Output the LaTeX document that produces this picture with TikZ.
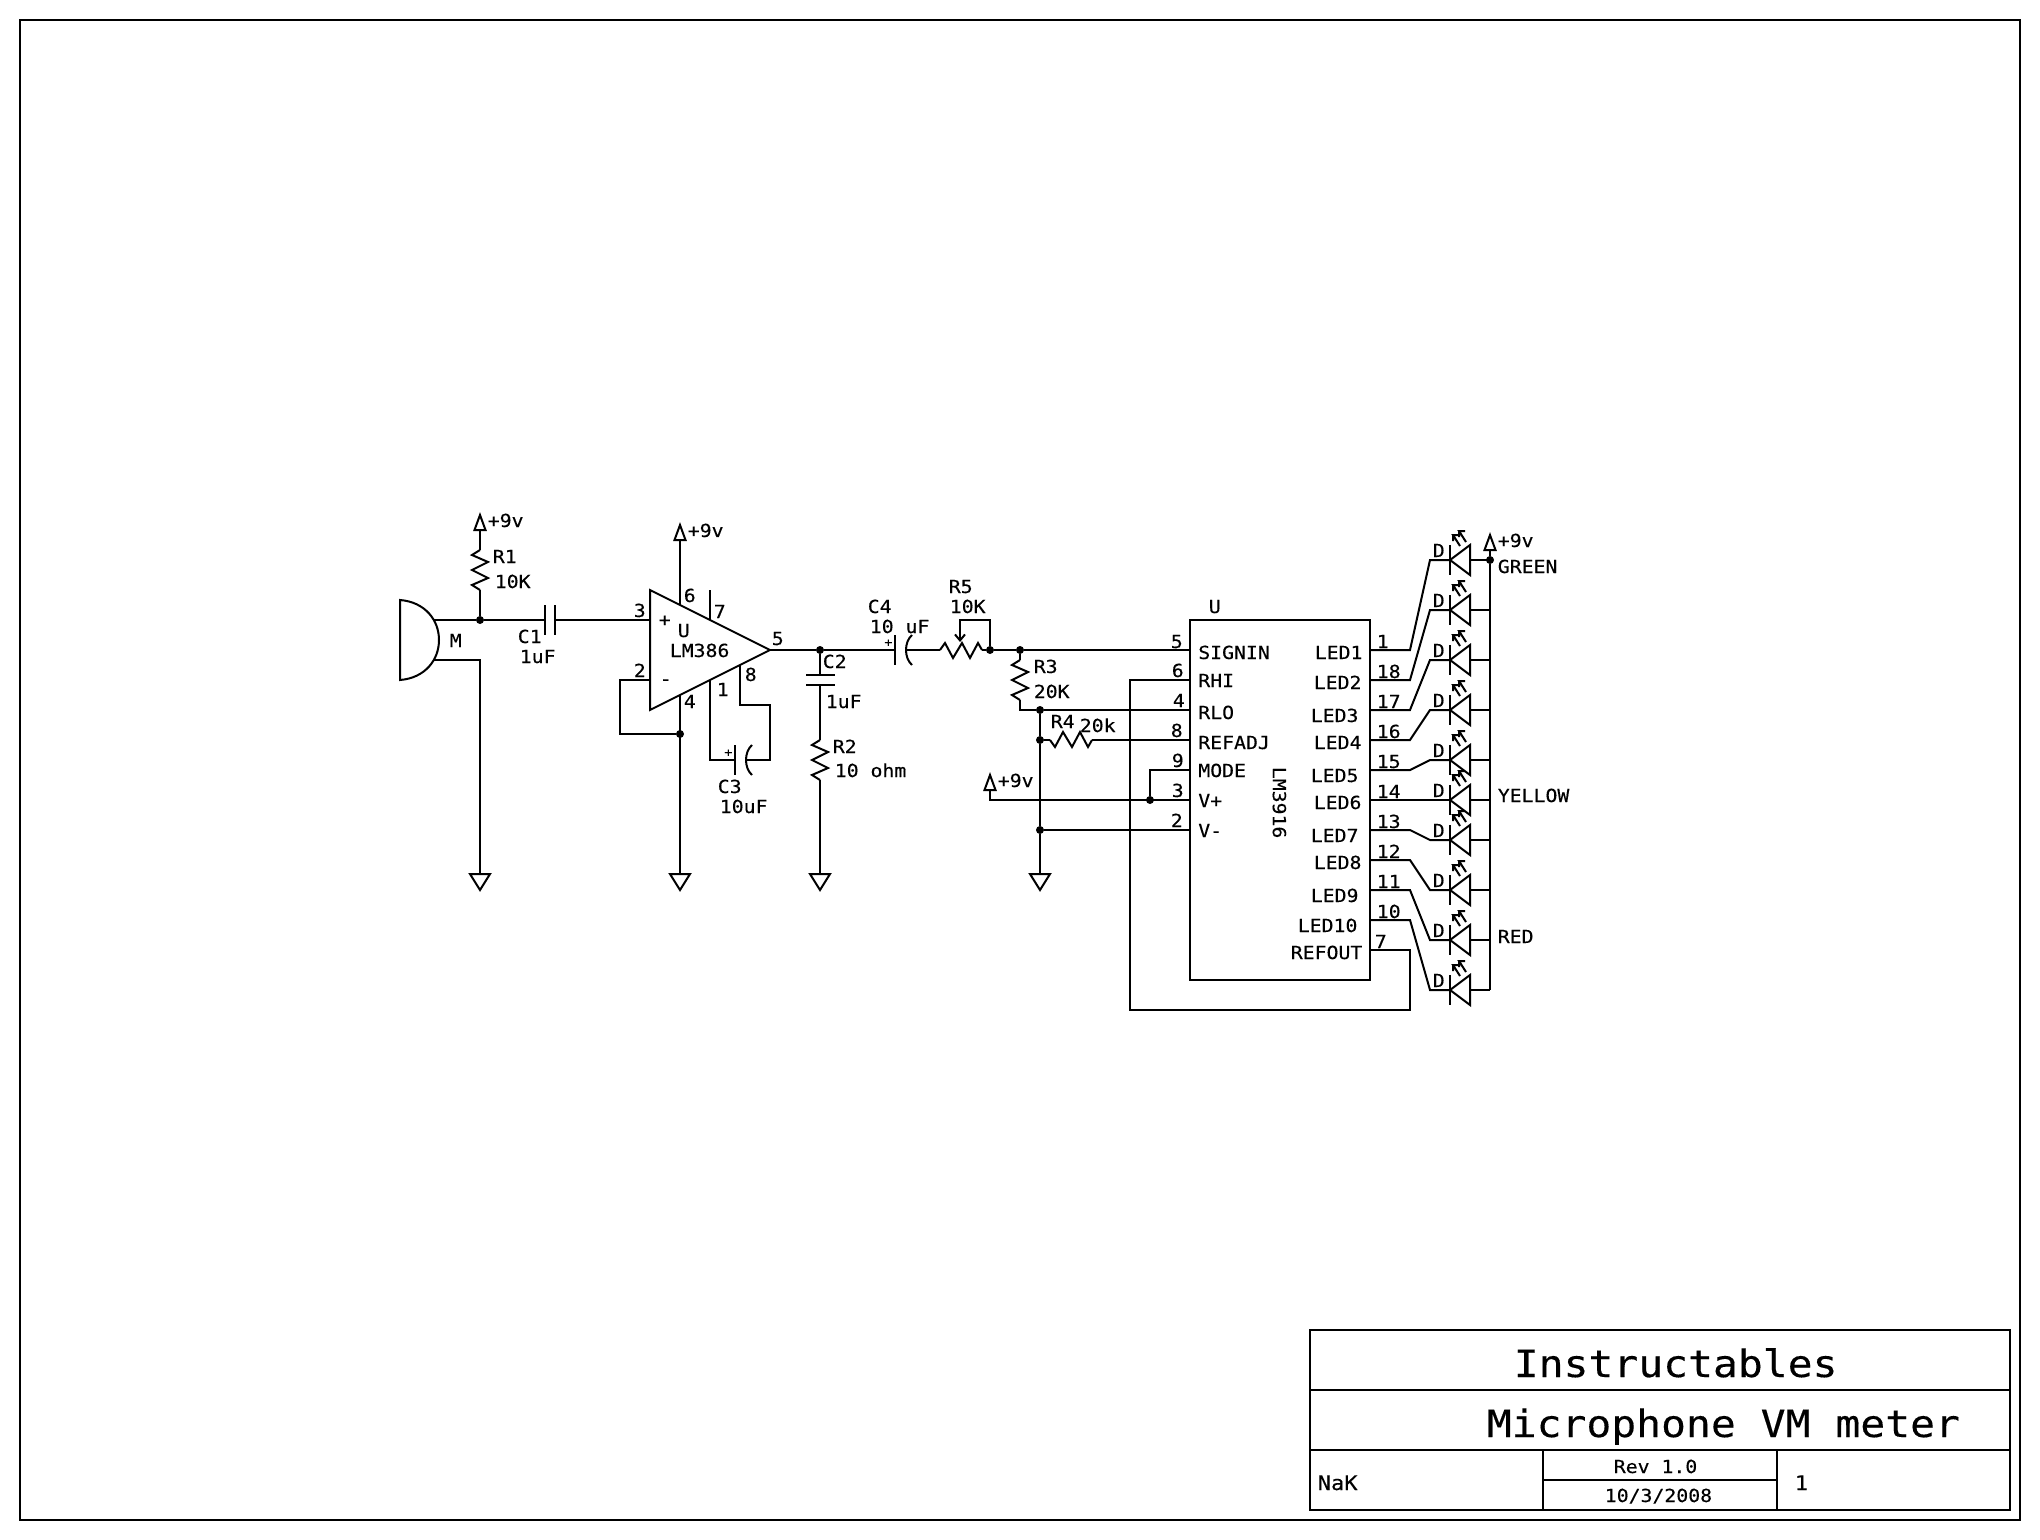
\documentclass[tikz,border=0pt]{standalone}
\usepackage{fontspec}
\usetikzlibrary{arrows.meta}
\newfontfamily\schfont[FakeStretch=1.1,FakeBold=0.3]{DejaVu Sans Mono}

\tikzset{
  wire/.style={line width=1pt, line join=miter},
  lab/.style={inner sep=0pt, anchor=base west, xshift=-0.3pt, font=\schfont\fontsize{9}{11}\selectfont},
  biglab/.style={lab, font=\schfont\fontsize{18.8}{22}\selectfont},
  midlab/.style={lab, font=\schfont\fontsize{10}{12}\selectfont},
  jdot/.style={circle, fill=black, inner sep=0pt, minimum size=4pt},
  gnd/.pic={
    \coordinate (-pin) at (0,0);
    \draw[wire] (-10,0) -- (10,0) -- (0,16) -- cycle;
  },
  vcc/.pic={
    \coordinate (-pin) at (0,0);
    \draw[wire] (-5.5,0) -- (5.5,0) -- (0,-15) -- cycle;
  },
  resv/.pic={
    \coordinate (-a) at (0,0);
    \coordinate (-b) at (0,40);
    \draw[wire] (-a) -- (-8,5) -- (8,12) -- (-8,20) -- (8,28) -- (-8,35) -- (-b);
  },
  resh/.pic={
    \coordinate (-a) at (0,0);
    \coordinate (-b) at (42,0);
    \draw[wire] (-a) -- (5,-7) -- (13,8) -- (22,-7) -- (30,8) -- (38,-7) -- (-b);
  },
  polcap/.pic={
    \coordinate (-a) at (0,0);
    \coordinate (-b) at (11,0);
    \draw[wire] (0,-15) -- (0,15);
    \draw[wire] (17,-15) .. controls (9,-8) and (9,8) .. (17,15);
    \node[lab, anchor=center, font=\schfont\fontsize{6}{7}\selectfont] (-plus) at (-6,-7) {+};
  },
  led/.pic={
    \coordinate (-k) at (0,0);
    \coordinate (-a) at (20,0);
    \draw[wire] (0,-15) -- (0,15);
    \draw[wire] (0,0) -- (20,-15) -- (20,15) -- cycle;
    \draw[wire] (10,-14) -- (3,-25) -- (9,-25) (3,-25) -- (3,-19);
    \draw[wire] (16,-18) -- (9,-29) -- (15,-29) (9,-29) -- (9,-23);
  }
}

\begin{document}
\begin{tikzpicture}[x=0.5pt, y=-0.5pt]
  \useasboundingbox (0,0) rectangle (2040,1540);

  % Sheet frame
  \coordinate (frametl) at (20,20);
  \coordinate (framebr) at (2020,1520);
  \draw[wire] (frametl) rectangle (framebr);

  % Junctions
  \foreach \jname/\jx/\jy in {jmic/480/620, jfb/680/734, jout/820/650, jwiper/990/650,
      jrthree/1020/650, jrlo/1040/710, jrfour/1040/740, jvminus/1040/830,
      jmode/1150/800, jbus/1490/560}
    \node[jdot] (\jname) at (\jx,\jy) {};

  % Microphone
  \draw[wire] (400,600) .. controls (425,602) and (439,620) .. (439,640)
     .. controls (439,660) and (425,678) .. (400,680) -- cycle;
  \coordinate (mictop) at (434,620);
  \coordinate (micbot) at (434,660);
  \coordinate (miccorner) at (480,660);
  \node[lab] (micm) at (450,647) {M};
  \pic (gndm) at (480,874) {gnd};
  \draw[wire] (mictop) -- (jmic);
  \draw[wire] (micbot) -- (miccorner) -- (gndm-pin);

  % R1
  \pic (vccr) at (480,530) {vcc};
  \pic (rone) at (480,550) {resv};
  \draw[wire] (vccr-pin) -- (rone-a);
  \draw[wire] (rone-b) -- (jmic);
  \node[lab] (vcctxta) at (488,527) {+9v};
  \node[lab] (ronetxt) at (493,563) {R1};
  \node[lab] (ronev) at (495,588) {10K};

  % C1
  \coordinate (cona) at (545,620);
  \coordinate (conb) at (555,620);
  \draw[wire] (545,605) -- (545,635);
  \draw[wire] (555,605) -- (555,635);
  \draw[wire] (jmic) -- (cona);
  \node[lab] (conetxt) at (518,643) {C1};
  \node[lab] (conev) at (520,663) {1uF};

  % LM386
  \coordinate (ampa) at (650,590);
  \coordinate (ampb) at (770,650);
  \coordinate (ampc) at (650,710);
  \draw[wire] (ampa) -- (ampb) -- (ampc) -- cycle;
  \coordinate (amptre) at (650,620);
  \coordinate (amptwo) at (650,680);
  \coordinate (ampsix) at (680,605);
  \coordinate (ampsev) at (710,620);
  \coordinate (ampfou) at (680,695);
  \coordinate (ampone) at (710,680);
  \coordinate (ampeig) at (740,665);
  \draw[wire] (conb) -- (amptre);
  \pic (vccu) at (680,540) {vcc};
  \pic (gndu) at (680,874) {gnd};
  \draw[wire] (vccu-pin) -- (ampsix);
  \draw[wire] (ampsev) -- (710,590);
  \draw[wire] (ampfou) -- (gndu-pin);
  \draw[wire] (amptwo) -- (620,680) -- (620,734) -- (jfb);
  \node[lab] (vcctxtb) at (688,537) {+9v};
  \node[lab] (ampplus) at (659,626) {+};
  \node[lab] (ampminus) at (660,685) {-};
  \node[lab] (ampu) at (678,637) {U};
  \node[lab] (ampname) at (670,657) {LM386};
  \node[lab] (pintre) at (634,617) {3};
  \node[lab] (pintwo) at (634,677) {2};
  \node[lab] (pinsix) at (684,602) {6};
  \node[lab] (pinsev) at (714,618) {7};
  \node[lab] (pinfiv) at (772,645) {5};
  \node[lab] (pineig) at (745,681) {8};
  \node[lab] (pinone) at (717,696) {1};
  \node[lab] (pinfou) at (684,708) {4};

  % C3
  \pic (cthree) at (735,760) {polcap};
  \draw[wire] (ampone) -- (710,760) -- (cthree-a);
  \draw[wire] (cthree-b) -- (770,760) -- (770,705) -- (740,705) -- (ampeig);
  \node[lab] (cthreetxt) at (718,793) {C3};
  \node[lab] (cthreev) at (720,813) {10uF};

  % C2 and R2
  \pic (rtwo) at (820,740) {resv};
  \pic (gndr) at (820,874) {gnd};
  \draw[wire] (jout) -- (820,675);
  \draw[wire] (806,675) -- (835,675);
  \draw[wire] (806,685) -- (835,685);
  \draw[wire] (820,685) -- (rtwo-a);
  \draw[wire] (rtwo-b) -- (gndr-pin);
  \draw[wire] (ampb) -- (jout);
  \node[lab] (ctwotxt) at (823,668) {C2};
  \node[lab] (ctwov) at (826,708) {1uF};
  \node[lab] (rtwotxt) at (833,753) {R2};
  \node[lab] (rtwov) at (835,777) {10 ohm};

  % C4 and R5
  \pic (cfour) at (895,650) {polcap};
  \pic (rfive) at (940,650) {resh};
  \draw[wire] (jout) -- (cfour-a);
  \draw[wire] (cfour-b) -- (rfive-a);
  \draw[wire] (rfive-b) -- (jwiper);
  \draw[wire, -{Straight Barb[length=3pt,width=5pt]}] (jwiper) -- (990,620) -- (960,620) -- (960,642);
  \node[lab] (cfourtxt) at (868,613) {C4};
  \node[lab] (cfourv) at (870,633) {10 uF};
  \node[lab] (rfivetxt) at (949,593) {R5};
  \node[lab] (rfivev) at (950,613) {10K};

  % R3, R4 and the lower rail
  \pic (rthree) at (1020,660) {resv};
  \pic[yscale=-1] (rfour) at (1050,740) {resh};
  \pic (gndv) at (1040,874) {gnd};
  \draw[wire] (jwiper) -- (jrthree);
  \draw[wire] (jrthree) -- (rthree-a);
  \draw[wire] (rthree-b) -- (1020,710) -- (jrlo);
  \draw[wire] (jrlo) -- (jrfour) -- (jvminus) -- (gndv-pin);
  \draw[wire] (jrfour) -- (rfour-a);
  \node[lab] (rthreetxt) at (1034,673) {R3};
  \node[lab] (rthreev) at (1034,698) {20K};
  \node[lab] (rfourtxt) at (1051,728) {R4};
  \node[lab] (rfourv) at (1080,732) {20k};
  \pic (vccv) at (990,790) {vcc};
  \node[lab] (vcctxtc) at (998,787) {+9v};

  % LM3916
  \node[draw, wire, minimum width=90pt, minimum height=180pt, inner sep=0pt] (lm) at (1280,800) {};
  \node[lab, anchor=center, rotate=-90, xshift=0.3pt] (lmname) at (1280,802) {LM3916};
  \node[lab] (lmu) at (1209,613) {U};
  \foreach \pinno/\pinlab/\ypin/\xno/\yno/\ytxt in {5/SIGNIN/650/1171/648/659, 6/RHI/680/1172/677/687,
      4/RLO/710/1173/707/719, 8/REFADJ/740/1171/737/749, 9/MODE/770/1172/767/777,
      3/V+/800/1172/797/807, 2/V-/830/1171/827/837} {
    \coordinate (lmin\pinno) at (1190,\ypin);
    \node[lab] (lmno\pinno) at (\xno,\yno) {\pinno};
    \node[lab] (lmtxt\pinno) at (1198.5,\ytxt) {\pinlab};
  }
  \draw[wire] (jrthree) -- (lmin5);
  \draw[wire] (lmin6) -- (1130,680) -- (1130,1010) -- (1410,1010) -- (1410,950) -- (1370,950);
  \draw[wire] (jrlo) -- (lmin4);
  \draw[wire] (rfour-b) -- (lmin8);
  \draw[wire] (lmin9) -- (1150,770) -- (jmode);
  \draw[wire] (vccv-pin) -- (990,800) -- (lmin3);
  \draw[wire] (jvminus) -- (lmin2);
  \foreach \txtname/\txtx/\txty/\txtval in {ledtxta/1315/659/LED1, ledtxtb/1314/689/LED2, ledtxtc/1311/722/LED3,
      ledtxtd/1314/749/LED4, ledtxte/1311/782/LED5, ledtxtf/1314/809/LED6, ledtxtg/1311/842/LED7,
      ledtxth/1314/869/LED8, ledtxti/1311/902/LED9, ledtxtj/1298/932/LED10, reftxt/1291/959/REFOUT}
    \node[lab] (\txtname) at (\txtx,\txty) {\txtval};
  \node[lab] (pinrefno) at (1375,948) {7};

  % LED column
  \pic (vccl) at (1490,550) {vcc};
  \coordinate (busend) at (1490,990);
  \draw[wire] (vccl-pin) -- (jbus) -- (busend);
  \foreach \pinno/\ypin/\yled [count=\i] in {1/650/560, 18/680/610, 17/710/660, 16/740/710, 15/770/760,
      14/800/800, 13/830/840, 12/860/890, 11/890/940, 10/920/990} {
    \coordinate (lmout\i) at (1370,\ypin);
    \coordinate (buspin\i) at (1490,\yled);
    \pic (led\i) at (1450,\yled) {led};
    \draw[wire] (lmout\i) -- (1410,\ypin) -- (1430,\yled) -- (led\i-k);
    \draw[wire] (led\i-a) -- (buspin\i);
    \node[lab] (outno\i) at (1377,\ypin-2) {\pinno};
    \node[lab] (ledd\i) at (1433,\yled-3) {D};
  }
  \node[lab] (vcctxtd) at (1498,547) {+9v};
  \node[lab] (green) at (1498,573) {GREEN};
  \node[lab] (yellow) at (1498,802) {YELLOW};
  \node[lab] (red) at (1498,943) {RED};

  % Title block
  \coordinate (blocktl) at (1310,1330);
  \coordinate (blockbr) at (2010,1510);
  \draw[wire] (blocktl) rectangle (blockbr);
  \draw[wire] (1310,1390) -- (2010,1390);
  \draw[wire] (1310,1450) -- (2010,1450);
  \draw[wire] (1543,1450) -- (1543,1510);
  \draw[wire] (1777,1450) -- (1777,1510);
  \draw[wire] (1543,1480) -- (1777,1480);
  \node[biglab] (company) at (1514,1377) {Instructables};
  \node[biglab] (sheetname) at (1487,1437) {Microphone VM meter};
  \node[midlab] (drawnby) at (1318,1490) {NaK};
  \node[lab] (revision) at (1614,1473) {Rev 1.0};
  \node[lab] (sheetdate) at (1605,1502) {10/3/2008};
  \node[midlab] (sheetno) at (1795,1490) {1};
\end{tikzpicture}
\end{document}
